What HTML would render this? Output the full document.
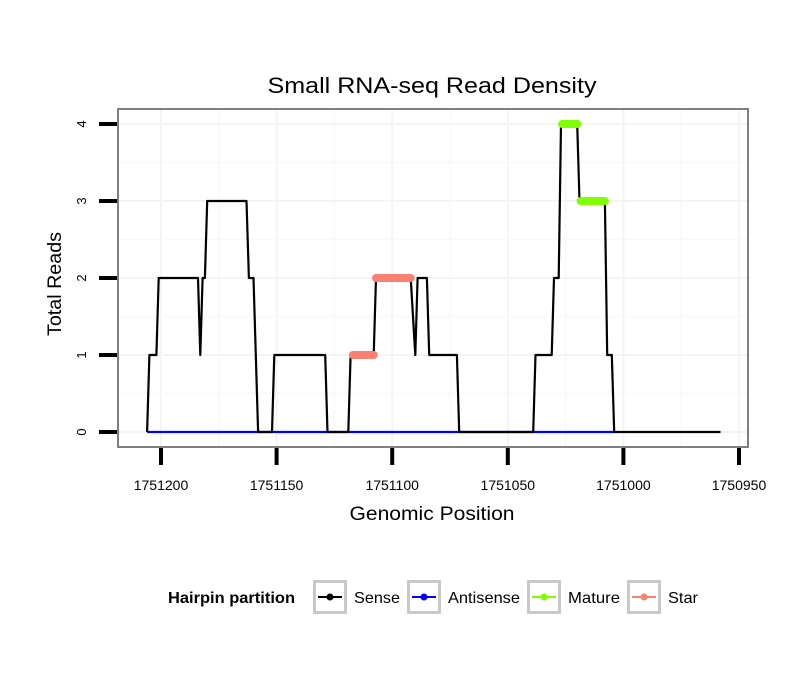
<!DOCTYPE html>
<html><head><meta charset="utf-8"><style>
html,body{margin:0;padding:0;background:#fff;}
svg{display:block;font-family:"Liberation Sans",sans-serif;}
</style></head><body>
<svg id="chart" width="810" height="690" viewBox="0 0 810 690">
<rect width="810" height="690" fill="#fff"/>
<text x="432" y="93" font-size="22" text-anchor="middle" fill="#000" textLength="329" lengthAdjust="spacingAndGlyphs">Small RNA-seq Read Density</text>
<g id="grid"></g>
<g id="series"></g>
<rect x="118" y="109" width="630" height="338" fill="none" stroke="#7f7f7f" stroke-width="2"/>
<g id="axes"></g>
<text x="432" y="520" font-size="19" text-anchor="middle" textLength="165" lengthAdjust="spacingAndGlyphs">Genomic Position</text>
<text transform="translate(61,284) rotate(-90)" font-size="19" text-anchor="middle" textLength="104" lengthAdjust="spacingAndGlyphs">Total Reads</text>
<g font-size="16">
<text x="168" y="603" font-weight="bold" textLength="127" lengthAdjust="spacingAndGlyphs">Hairpin partition</text>
<g><rect x="314.5" y="581.5" width="31" height="31" fill="#fff" stroke="#c8c8c8" stroke-width="3"/><line x1="318" y1="597" x2="342" y2="597" stroke="#000" stroke-width="2"/><circle cx="330" cy="597" r="3.5" fill="#000"/><text x="354" y="603" textLength="46" lengthAdjust="spacingAndGlyphs">Sense</text></g>
<g><rect x="408.5" y="581.5" width="31" height="31" fill="#fff" stroke="#c8c8c8" stroke-width="3"/><line x1="412" y1="597" x2="436" y2="597" stroke="#0000ff" stroke-width="2"/><circle cx="424" cy="597" r="3.5" fill="#0000ff"/><text x="448" y="603" textLength="72" lengthAdjust="spacingAndGlyphs">Antisense</text></g>
<g><rect x="528.5" y="581.5" width="31" height="31" fill="#fff" stroke="#c8c8c8" stroke-width="3"/><line x1="532" y1="597" x2="556" y2="597" stroke="#7fff00" stroke-width="2"/><circle cx="544" cy="597" r="3.5" fill="#7fff00"/><text x="568" y="603" textLength="52" lengthAdjust="spacingAndGlyphs">Mature</text></g>
<g><rect x="628.5" y="581.5" width="31" height="31" fill="#fff" stroke="#c8c8c8" stroke-width="3"/><line x1="632" y1="597" x2="656" y2="597" stroke="#fa8072" stroke-width="2"/><circle cx="644" cy="597" r="3.5" fill="#fa8072"/><text x="668" y="603" textLength="30" lengthAdjust="spacingAndGlyphs">Star</text></g>
</g>
</svg>
<script>
const xTicks = [1751200, 1751150, 1751100, 1751050, 1751000, 1750950];
const xTickLabels = ["1751200", "1751150", "1751100", "1751050", "1751000", "1750950"];
const yTicks = [0, 1, 2, 3, 4];
const yTickLabels = ["0", "1", "2", "3", "4"];
const sensePos = [1751206,1751205,1751202,1751201,1751184,1751183,1751182,1751181,1751180,1751163,1751162,1751160,1751158,1751152,1751151,1751129,1751128,1751119,1751118,1751108,1751107,1751092,1751090,1751089,1751085,1751084,1751072,1751071,1751039,1751038,1751031,1751030,1751028,1751027,1751020,1751019,1751008,1751007,1751005,1751004,1750958];
const senseReads = [0,1,1,2,2,1,2,2,3,3,2,2,0,0,1,1,0,0,1,1,2,2,1,2,2,1,1,0,0,1,1,2,2,4,4,3,3,1,1,0,0];
const antisensePos = [1751206, 1751004];
const antisenseReads = [0, 0];
const starStart = [1751117, 1751107];
const starEnd = [1751108, 1751092];
const starReads = [1, 2];
const matureStart = [1751026.5, 1751018.5];
const matureEnd = [1751020, 1751008];
const matureReads = [4, 3];

const NS = "http://www.w3.org/2000/svg";
function X(p){ return 161 + (1751200 - p) * 2.312; }
function Y(v){ return 432 - v * 77; }
function mk(tag, attrs, parent){ const e = document.createElementNS(NS, tag); for (const k in attrs) e.setAttribute(k, attrs[k]); parent.appendChild(e); return e; }
const grid = document.getElementById('grid');
const series = document.getElementById('series');
const axes = document.getElementById('axes');
mk('rect', {x:118,y:109,width:630,height:338,fill:'#fff'}, grid);
for (let i = 0; i < xTicks.length; i++) {
  const gx = X(xTicks[i]);
  let l = mk('line', {x1:gx,x2:gx,y1:109,y2:447,stroke:'#f4f4f4','stroke-width':2}, grid);
  
  
  if (i < xTicks.length - 1) {
    const mx = X((xTicks[i] + xTicks[i+1]) / 2);
    mk('line', {x1:mx,x2:mx,y1:109,y2:447,stroke:'#f8f8f8','stroke-width':1.5}, grid);
  }
  const t = mk('line', {x1:gx,x2:gx,y1:448,y2:465,stroke:'#000','stroke-width':4}, axes);
  
  
  const tx = mk('text', {x:gx,y:490,'font-size':14,'text-anchor':'middle'}, axes);
  tx.textContent = xTickLabels[i];
  
  
}
for (let i = 0; i < yTicks.length; i++) {
  const gy = Y(yTicks[i]);
  let l = mk('line', {x1:118,x2:748,y1:gy,y2:gy,stroke:'#f4f4f4','stroke-width':2}, grid);
  
  
  if (i < yTicks.length - 1) {
    const my = Y(yTicks[i] + 0.5);
    mk('line', {x1:118,x2:748,y1:my,y2:my,stroke:'#f8f8f8','stroke-width':1.5}, grid);
  }
  const t = mk('line', {x1:99,x2:117,y1:gy,y2:gy,stroke:'#000','stroke-width':4}, axes);
  
  
  const tx = mk('text', {transform:'translate(86,'+gy+') rotate(-90)','font-size':13,'text-anchor':'middle'}, axes);
  tx.textContent = yTickLabels[i];
  
  
}
function pts(ps, vs){ return ps.map((p,i)=>X(p).toFixed(1)+','+Y(vs[i]).toFixed(1)).join(' '); }
const anti = mk('polyline', {points:pts(antisensePos, antisenseReads),fill:'none',stroke:'#0000ff','stroke-width':2.2}, series);


const sense = mk('polyline', {points:pts(sensePos, senseReads),fill:'none',stroke:'#000','stroke-width':2.2,'stroke-linejoin':'round'}, series);


for (let i = 0; i < starReads.length; i++) {
  const s = mk('line', {x1:X(starStart[i]),x2:X(starEnd[i]),y1:Y(starReads[i]),y2:Y(starReads[i]),stroke:'#fa8072','stroke-width':8,'stroke-linecap':'round'}, series);
  
  
}
for (let i = 0; i < matureReads.length; i++) {
  const s = mk('line', {x1:X(matureStart[i]),x2:X(matureEnd[i]),y1:Y(matureReads[i]),y2:Y(matureReads[i]),stroke:'#7fff00','stroke-width':8,'stroke-linecap':'round'}, series);
  
  
}
</script>
</body></html>
